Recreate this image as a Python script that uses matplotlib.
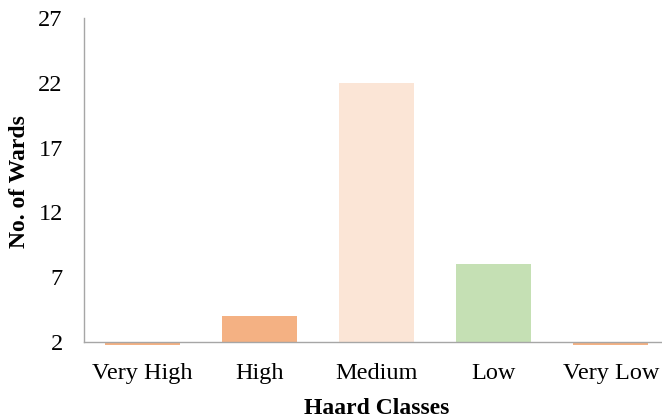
import matplotlib.pyplot as plt
import numpy as np

plt.rcParams['font.family'] = ['Liberation Serif', 'DejaVu Serif']

# 数据
classes = ['Very High', 'High', 'Medium', 'Low', 'Very Low']
wards = [1, 4, 22, 8, 1]
colors = ['#F4B183', '#F4B183', '#FBE5D6', '#C5E0B4', '#F4B183']
y_ticks = [2, 7, 12, 17, 22, 27]

base = 2

fig = plt.figure(figsize=(6.62, 4.18), dpi=100)
ax = fig.add_axes([0.1263, 0.1746, 0.885, 0.7824])

x = np.arange(len(classes))
heights = [w - base for w in wards]
ax.bar(x, heights, bottom=base, width=0.64, color=colors, zorder=2)

ax.set_xlim(-0.5, len(classes) - 0.5)
ax.set_ylim(1.78, 27)
ax.set_yticks(y_ticks)
ax.set_xticks(x)
ax.set_xticklabels(classes)

for s in ['top', 'right']:
    ax.spines[s].set_visible(False)
ax.spines['bottom'].set_position(('data', base))
ax.spines['left'].set_bounds(base, 27)
for s in ['left', 'bottom']:
    ax.spines[s].set_color('#A6A6A6')
    ax.spines[s].set_linewidth(1.0)
    ax.spines[s].set_zorder(3)

ax.tick_params(axis='both', length=0, labelsize=17.5, colors='black')
ax.tick_params(axis='x', pad=15)
ax.tick_params(axis='y', pad=15)

ax.set_xlabel('Haard Classes', fontsize=17, fontweight='bold', labelpad=10)
ax.set_ylabel('No. of Wards', fontsize=17, fontweight='bold', labelpad=6)

plt.savefig('out.png', dpi=100, facecolor='white')
plt.close()
